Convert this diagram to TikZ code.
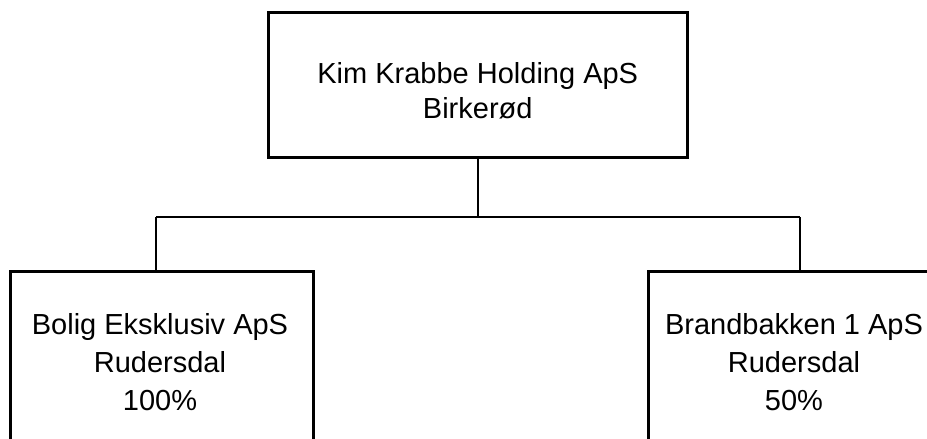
\documentclass[tikz,border=0pt]{standalone}
\usepackage{fontspec}
\setmainfont{Liberation Sans}
\begin{document}
\begin{tikzpicture}[x=1pt,y=-1pt,
  orgbox/.style={draw=black,line width=3pt,fill=white,inner sep=0pt,outer sep=0pt},
  toptext/.style={align=center,inner sep=0pt,font=\fontsize{29}{35}\selectfont},
  childtext/.style={align=center,inner sep=0pt,font=\fontsize{29}{38}\selectfont},
  conn/.style={draw=black,line width=1.5pt}]
\useasboundingbox (0,0) rectangle (927,439);
\clip (0,0) rectangle (927,439);
\node[orgbox,minimum width=418.5pt,minimum height=145pt] (top) at (477.75,84.5) {};
\node[toptext] (toptxt) at (477.75,90.7) {Kim Krabbe Holding ApS\\Birkerød};
\node[orgbox,minimum width=303pt,minimum height=200pt] (left) at (161.5,371) {};
\node[childtext] (lefttxt) at (160,362.6) {Bolig Eksklusiv ApS\\Rudersdal\\100\%};
\node[orgbox,minimum width=296pt,minimum height=200pt] (right) at (796,371) {};
\node[childtext] (righttxt) at (794,362.6) {Brandbakken 1 ApS\\Rudersdal\\50\%};
\coordinate (j) at (477.75,217);
\coordinate (jl) at (156,217);
\coordinate (jr) at (800,217);
\draw[conn] (top.south) -- (j);
\draw[conn] (jl) -- (jr);
\draw[conn] (jl) -- (jl |- left.north);
\draw[conn] (jr) -- (jr |- right.north);
\end{tikzpicture}
\end{document}
